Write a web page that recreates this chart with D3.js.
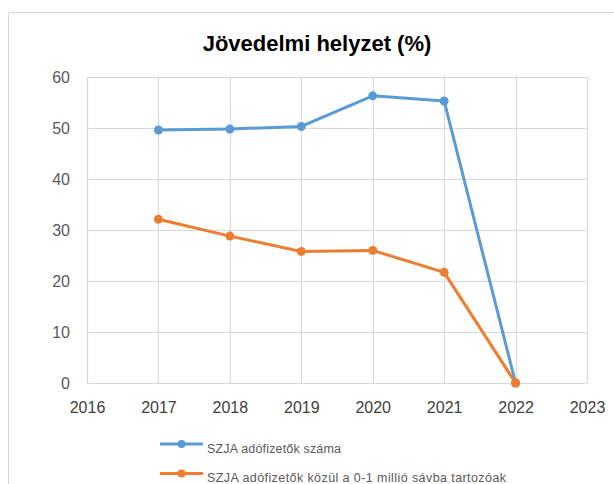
<!DOCTYPE html>
<html>
<head>
<meta charset="utf-8">
<script src="https://cdn.jsdelivr.net/npm/d3@7"></script>
<style>
  body { margin: 0; background: #fff; }
  svg { display: block; font-family: "Liberation Sans", Arial, sans-serif; }
</style>
</head>
<body>
<div id="chart"></div>
<script>
// data
const years = [2017, 2018, 2019, 2020, 2021, 2022];
const taxpayers = [49.6, 49.8, 50.3, 56.3, 55.3, 0];
const lowBand = [32.1, 28.8, 25.8, 26.0, 21.7, 0];
const xTicks = [2016, 2017, 2018, 2019, 2020, 2021, 2022, 2023];
const yTicks = [0, 10, 20, 30, 40, 50, 60];
const seriesNames = ["SZJA adófizetők száma", "SZJA adófizetők közül a 0-1 millió sávba tartozóak"];
const seriesColors = ["#5b9bd5", "#ed7d31"];

const width = 614, height = 484;
const margin = { top: 77, right: 27, bottom: 101, left: 87 };

const svg = d3.select("#chart").append("svg")
  .attr("width", width)
  .attr("height", height);

// outer chart frame (cut off at right / bottom like the screenshot)
svg.append("path")
  .attr("d", "M8.5," + height + "V12.5H" + width)
  .attr("fill", "none")
  .attr("stroke", "#d9d9d9");

const x = d3.scaleLinear()
  .domain([2016, 2023])
  .range([margin.left, width - margin.right]);

const y = d3.scaleLinear()
  .domain([0, 60])
  .range([height - margin.bottom, margin.top]);

// gridlines
svg.append("g")
  .selectAll("line")
  .data(yTicks)
  .join("line")
  .attr("x1", x(2016)).attr("x2", x(2023))
  .attr("y1", d => Math.round(y(d)) + 0.5)
  .attr("y2", d => Math.round(y(d)) + 0.5)
  .attr("stroke", "#d9d9d9")
  .attr("stroke-width", 1.2);

svg.append("g")
  .selectAll("line")
  .data(xTicks)
  .join("line")
  .attr("x1", d => Math.round(x(d)) + 0.5)
  .attr("x2", d => Math.round(x(d)) + 0.5)
  .attr("y1", y(0)).attr("y2", y(60))
  .attr("stroke", "#d9d9d9")
  .attr("stroke-width", 1.2);

// axes (labels only)
const yAxis = svg.append("g")
  .attr("transform", "translate(" + (margin.left - 17) + ",0)")
  .call(d3.axisLeft(y).tickValues(yTicks).tickSize(0).tickPadding(0));
yAxis.select(".domain").remove();
yAxis.selectAll("text")
  .attr("fill", "#595959")
  .style("font-size", "16px")
  .style("font-family", "Liberation Sans, Arial, sans-serif");

const xAxis = svg.append("g")
  .attr("transform", "translate(0," + (y(0) + 19) + ")")
  .call(d3.axisBottom(x).tickValues(xTicks).tickFormat(d3.format("d")).tickSize(0).tickPadding(0));
xAxis.select(".domain").remove();
xAxis.selectAll("text")
  .attr("fill", "#404040")
  .style("font-size", "16px")
  .style("font-family", "Liberation Sans, Arial, sans-serif");

// title
svg.append("text")
  .attr("x", 317)
  .attr("y", 51)
  .attr("text-anchor", "middle")
  .attr("font-weight", "bold")
  .attr("font-size", "22px")
  .attr("fill", "#000")
  .text("Jövedelmi helyzet (%)");

// lines
const line = d3.line()
  .x((d, i) => x(years[i]))
  .y(d => y(d));

[taxpayers, lowBand].forEach((vals, k) => {
  const g = svg.append("g");
  g.append("path")
    .datum(vals)
    .attr("d", line)
    .attr("fill", "none")
    .attr("stroke", seriesColors[k])
    .attr("stroke-width", 3)
    .attr("stroke-linejoin", "round");
  g.selectAll("circle")
    .data(vals)
    .join("circle")
    .attr("cx", (d, i) => x(years[i]))
    .attr("cy", d => y(d))
    .attr("r", 4.5)
    .attr("fill", seriesColors[k]);
});

// legend (text widths matched to the original)
const legendWidths = [134, 299];
const legend = svg.append("g");
seriesNames.forEach((name, k) => {
  const ly = 444 + k * 29.5;
  legend.append("line")
    .attr("x1", 160).attr("x2", 203)
    .attr("y1", ly).attr("y2", ly)
    .attr("stroke", seriesColors[k])
    .attr("stroke-width", 3);
  legend.append("circle")
    .attr("cx", 181.5).attr("cy", ly)
    .attr("r", 4)
    .attr("fill", seriesColors[k]);
  legend.append("text")
    .attr("x", 207)
    .attr("y", ly + 8.5)
    .attr("font-size", "12.5px")
    .attr("textLength", legendWidths[k])
    .attr("lengthAdjust", "spacing")
    .attr("fill", "#595959")
    .text(name);
});
</script>
</body>
</html>
